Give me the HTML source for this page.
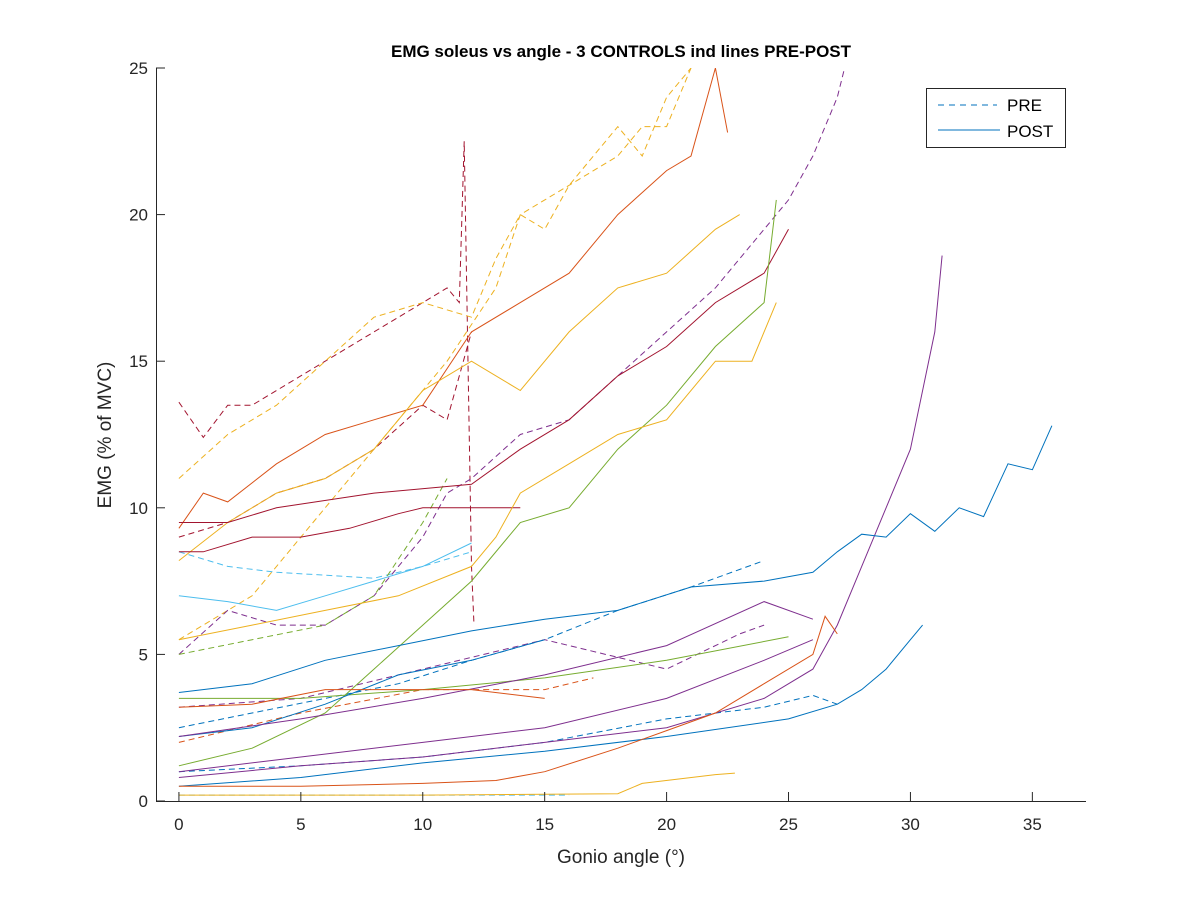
<!DOCTYPE html>
<html><head><meta charset="utf-8"><style>
body{margin:0;background:#fff;}
svg{display:block;font-family:"Liberation Sans",sans-serif;}
</style></head><body>
<svg id="chart" width="1200" height="900">
<rect x="0" y="0" width="1200" height="900" fill="#fff"/>
<g id="lines"></g>
<g id="axes"></g>
<text x="621" y="57" text-anchor="middle" font-size="17" font-weight="bold" fill="#000">EMG soleus vs angle - 3 CONTROLS ind lines PRE-POST</text>
<text x="621" y="863" text-anchor="middle" font-size="19" fill="#262626">Gonio angle (°)</text>
<text transform="translate(111,435) rotate(-90)" text-anchor="middle" font-size="19" fill="#262626">EMG (% of MVC)</text>
<g>
<rect x="926.5" y="88.5" width="139" height="59" fill="#fff" stroke="#262626" stroke-width="1"/>
<line x1="938" y1="105" x2="997" y2="105" stroke="#0072BD" stroke-width="1" stroke-dasharray="6,5"/>
<text x="1007" y="111" font-size="17" fill="#000">PRE</text>
<line x1="938" y1="130" x2="1000" y2="130" stroke="#0072BD" stroke-width="1"/>
<text x="1007" y="137" font-size="17" fill="#000">POST</text>
</g>
</svg>
<script>
const xTicks=[0,5,10,15,20,25,30,35];
const yTicks=[0,5,10,15,20,25];
const seriesColors=["#A2142F","#EDB120","#EDB120","#7E2F8E","#A2142F","#4DBEEE","#77AC30","#0072BD","#0072BD","#D95319","#4DBEEE","#7E2F8E",
"#D95319","#EDB120","#A2142F","#A2142F","#77AC30","#EDB120","#4DBEEE","#7E2F8E","#0072BD","#0072BD","#D95319","#EDB120","#77AC30","#0072BD","#7E2F8E","#D95319","#7E2F8E"];
const seriesDashed=[1,1,1,1,1,1,1,1,1,1,1,1,0,0,0,0,0,0,0,0,0,0,0,0,0,0,0,0,0];
const seriesPoints=[
[[0,13.6],[1,12.4],[2,13.5],[3,13.5],[4,14],[6,15],[8,16],[10,17],[11,17.5],[11.5,17],[11.7,22.5],[12,8],[12.1,6]],
[[0,11],[2,12.5],[4,13.5],[6,15],[8,16.5],[10,17],[12,16.5],[13,18.5],[14,20],[15,19.5],[16,21],[17,22],[18,23],[19,22],[20,24],[21,25]],
[[0,5.5],[3,7],[6,10],[9,13],[11,15],[13,17.5],[14,20],[16,21],[18,22],[19,23],[20,23],[21,25]],
[[0,5],[2,6.5],[4,6],[6,6],[8,7],[10,9],[11,10.5],[12,11],[14,12.5],[16,13],[18,14.5],[20,16],[22,17.5],[24,19.5],[25,20.5],[26,22],[27,24],[27.3,25]],
[[0,9],[2,9.5],[4,10.5],[6,11],[8,12],[10,13.5],[11,13],[11.5,14.5],[12,16]],
[[0,8.5],[2,8],[4,7.8],[6,7.7],[8,7.6],[10,8],[12,8.5]],
[[0,5],[3,5.5],[6,6],[8,7],[10,9.5],[11,11]],
[[0,2.5],[3,3],[6,3.5],[9,4],[12,4.8],[15,5.5],[18,6.5],[21,7.3],[24,8.2]],
[[0,1],[5,1.2],[10,1.5],[15,2],[20,2.8],[24,3.2],[26,3.6],[27,3.3]],
[[0,2],[5,3],[10,3.8],[15,3.8],[17,4.2]],
[[0,0.2],[5,0.2],[10,0.2],[16,0.2]],
[[0,3.2],[5,3.5],[10,4.5],[15,5.5],[20,4.5],[23,5.7],[24,6]],
[[0,9.3],[1,10.5],[2,10.2],[4,11.5],[6,12.5],[8,13],[10,13.5],[12,16],[14,17],[16,18],[18,20],[20,21.5],[21,22],[22,25],[22.5,22.8]],
[[0,8.2],[2,9.5],[4,10.5],[6,11],[8,12],[10,14],[12,15],[14,14],[16,16],[18,17.5],[20,18],[22,19.5],[23,20]],
[[0,8.5],[1,8.5],[3,9],[5,9],[7,9.3],[9,9.8],[10,10],[12,10],[14,10]],
[[0,9.5],[2,9.5],[4,10],[8,10.5],[12,10.8],[14,12],[16,13],[18,14.5],[20,15.5],[22,17],[24,18],[25,19.5]],
[[0,1.2],[3,1.8],[6,3],[8,4.5],[10,6],[12,7.5],[14,9.5],[16,10],[18,12],[20,13.5],[22,15.5],[24,17],[24.5,20.5]],
[[0,5.5],[3,6],[6,6.5],[9,7],[12,8],[13,9],[14,10.5],[16,11.5],[18,12.5],[20,13],[22,15],[23.5,15],[24.5,17]],
[[0,7],[2,6.8],[4,6.5],[6,7],[8,7.5],[10,8],[12,8.8]],
[[0,0.8],[5,1.2],[10,1.5],[15,2],[20,2.5],[24,3.5],[26,4.5],[27,6],[28,8],[29,10],[30,12],[31,16],[31.3,18.6]],
[[0,3.7],[3,4],[6,4.8],[9,5.3],[12,5.8],[15,6.2],[18,6.5],[21,7.3],[24,7.5],[26,7.8],[27,8.5],[28,9.1],[29,9],[30,9.8],[31,9.2],[32,10],[33,9.7],[34,11.5],[35,11.3],[35.8,12.8]],
[[0,0.5],[5,0.8],[10,1.3],[15,1.7],[20,2.2],[25,2.8],[27,3.3],[28,3.8],[29,4.5],[30,5.5],[30.5,6]],
[[0,0.5],[5,0.5],[10,0.6],[13,0.7],[15,1],[18,1.8],[20,2.4],[22,3],[24,4],[26,5],[26.5,6.3],[27,5.7]],
[[0,0.2],[10,0.2],[18,0.25],[19,0.6],[22,0.9],[22.8,0.95]],
[[0,3.5],[5,3.5],[10,3.8],[15,4.2],[20,4.8],[25,5.6]],
[[0,2.2],[3,2.5],[6,3.3],[9,4.3],[12,4.8],[15,5.5]],
[[0,2.2],[5,2.8],[10,3.5],[15,4.3],[20,5.3],[24,6.8],[26,6.2]],
[[0,3.2],[3,3.3],[6,3.8],[9,3.8],[12,3.8],[15,3.5]],
[[0,1],[5,1.5],[10,2],[15,2.5],[20,3.5],[24,4.8],[26,5.5]]
];
const NS="http://www.w3.org/2000/svg";
const X0=156,X1=1086,Y0=68,Y1=801,XMIN=-0.94,XMAX=37.2,YMIN=0,YMAX=25;
function sx(v){return X0+(v-XMIN)/(XMAX-XMIN)*(X1-X0);}
function sy(v){return Y1-(v-YMIN)/(YMAX-YMIN)*(Y1-Y0);}
const lines=document.getElementById('lines');
const clip=document.createElementNS(NS,'clipPath');clip.setAttribute('id','pc');
const cr=document.createElementNS(NS,'rect');cr.setAttribute('x',X0);cr.setAttribute('y',Y0);cr.setAttribute('width',X1-X0);cr.setAttribute('height',Y1-Y0);
clip.appendChild(cr);document.getElementById('chart').appendChild(clip);
lines.setAttribute('clip-path','url(#pc)');
seriesPoints.forEach((pts,i)=>{
  const p=document.createElementNS(NS,'polyline');
  p.setAttribute('points',pts.map(q=>sx(q[0]).toFixed(1)+','+sy(q[1]).toFixed(1)).join(' '));
  p.setAttribute('fill','none');p.setAttribute('stroke',seriesColors[i]);p.setAttribute('stroke-width','1');
  if(seriesDashed[i])p.setAttribute('stroke-dasharray','6,4');
  
  
  lines.appendChild(p);
});
const axes=document.getElementById('axes');
function ln(x1,y1,x2,y2){const l=document.createElementNS(NS,'line');l.setAttribute('x1',x1);l.setAttribute('y1',y1);l.setAttribute('x2',x2);l.setAttribute('y2',y2);l.setAttribute('stroke','#262626');l.setAttribute('stroke-width','1');axes.appendChild(l);return l;}
ln(X0+0.5,Y0,X0+0.5,Y1+0.5);ln(X0,Y1+0.5,X1,Y1+0.5);
xTicks.forEach(t=>{const x=sx(t);ln(x,Y1,x,Y1-9);
  const tx=document.createElementNS(NS,'text');tx.setAttribute('x',x);tx.setAttribute('y',Y1+29);tx.setAttribute('text-anchor','middle');tx.setAttribute('font-size','17');tx.setAttribute('fill','#262626');tx.textContent=t;
  
  
  axes.appendChild(tx);});
yTicks.forEach(t=>{const y=sy(t);ln(X0,y,X0+9,y);
  const tx=document.createElementNS(NS,'text');tx.setAttribute('x',X0-8);tx.setAttribute('y',y+6);tx.setAttribute('text-anchor','end');tx.setAttribute('font-size','17');tx.setAttribute('fill','#262626');tx.textContent=t;
  
  
  axes.appendChild(tx);});
</script>
</body></html>
